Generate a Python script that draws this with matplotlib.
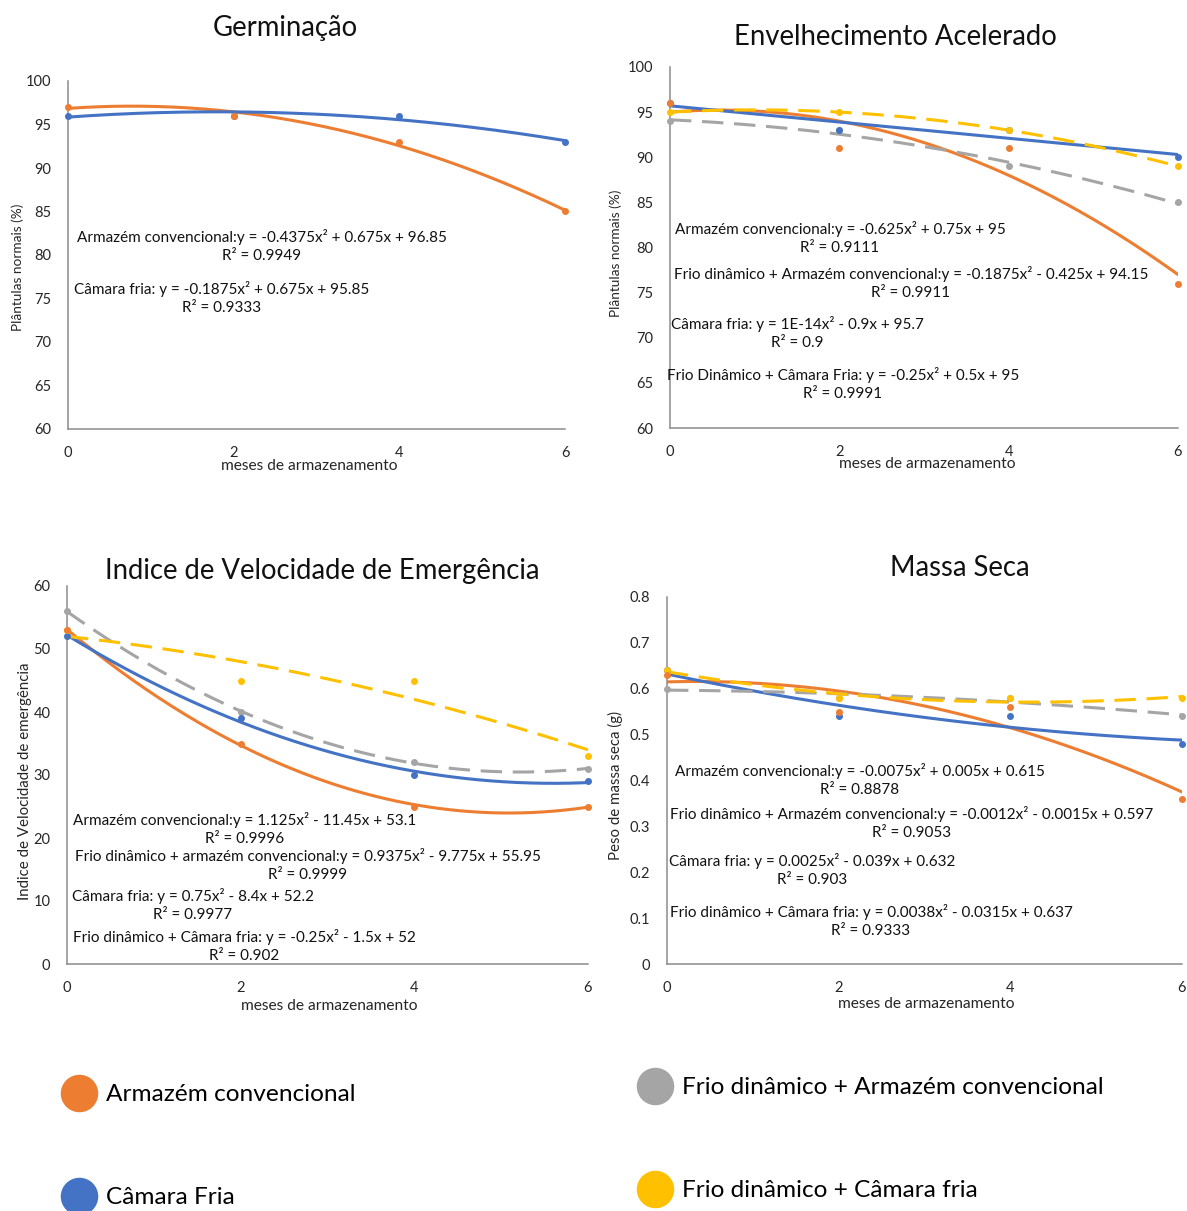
import numpy as np
import matplotlib
matplotlib.use('Agg')
import matplotlib.pyplot as plt
from matplotlib.lines import Line2D
from matplotlib.ticker import FuncFormatter

plt.rcParams['font.family'] = ['Lato', 'DejaVu Sans']

W, H = 1187, 1211
MESES = [0, 2, 4, 6]

SERIES = ['Armazém convencional', 'Câmara Fria',
          'Frio dinâmico + Armazém convencional', 'Frio dinâmico + Câmara fria']
COLORS = ['#ED7D31', '#4472C4', '#A5A5A5', '#FFC000']
DASHED = [False, False, True, True]

# germinação (%)
germ_armazem = [97, 96, 93, 85]
germ_camara = [96, 96, 96, 93]

# envelhecimento acelerado (%)
env_armazem = [96, 91, 91, 76]
env_camara = [96, 93, 93, 90]
env_frio_armazem = [94, 93, 89, 85]
env_frio_camara = [95, 95, 93, 89]

# indice de velocidade de emergência
ive_armazem = [53, 35, 25, 25]
ive_camara = [52, 39, 30, 29]
ive_frio_armazem = [56, 40, 32, 31]
ive_frio_camara = [53, 45, 45, 33]

# massa seca (g)
ms_armazem = [0.63, 0.55, 0.56, 0.36]
ms_camara = [0.64, 0.54, 0.54, 0.48]
ms_frio_armazem = [0.60, 0.58, 0.58, 0.54]
ms_frio_camara = [0.64, 0.58, 0.58, 0.58]


def px(x, y):
    return x / W, 1 - y / H


fig = plt.figure(figsize=(W / 100, H / 100), dpi=100)


def panel(rect, series, ylim, yticks, title, tpos, xl_pos, yl, yl_pos, yl_size,
          eqs):
    l, r, t, b = rect
    ax = fig.add_axes([l / W, 1 - b / H, (r - l) / W, (b - t) / H])
    xs = np.linspace(0, 6, 200)
    # draw in Excel order: orange, gray, blue, yellow
    for i in [2, 1, 3, 0]:
        ys = series[i]
        if ys is None:
            continue
        c = np.polyfit(MESES, ys, 2)
        ln, = ax.plot(xs, np.polyval(c, xs), color=COLORS[i], lw=2.2,
                      solid_capstyle='round', zorder=2 + i)
        if DASHED[i]:
            ln.set_dashes((7, 3.5))
        ax.plot(MESES, ys, 'o', color=COLORS[i], ms=4, clip_on=False,
                zorder=6)
    ax.set_xlim(0, 6)
    ax.set_ylim(*ylim)
    ax.set_xticks(MESES)
    ax.set_yticks(yticks)
    ax.yaxis.set_major_formatter(FuncFormatter(lambda v, p: f'{v:g}'))
    ax.tick_params(length=0, pad=12, labelsize=10.5, colors='#262626')
    for s in ['top', 'right']:
        ax.spines[s].set_visible(False)
    for s in ['left', 'bottom']:
        ax.spines[s].set_color('#8C8C8C')
        ax.spines[s].set_linewidth(1.1)
    fig.text(*px(*tpos), title, fontsize=19.8, ha='center', va='center',
             color='#111111')
    fig.text(*px(*xl_pos), 'meses de armazenamento', fontsize=11.2,
             ha='center', va='center', color='#262626')
    fig.text(*px(*yl_pos), yl, fontsize=yl_size, rotation=90, ha='center',
             va='center', color='#262626')
    for txt, (cx, cy) in eqs:
        fig.text(*px(cx, cy), txt, fontsize=11, ha='center', va='center',
                 multialignment='center', linespacing=1.3, color='#111111')
    return ax


panel((68, 565, 81, 429), [germ_armazem, germ_camara, None, None],
      (60, 100), range(60, 101, 5), 'Germinação', (285, 28), (309, 466),
      'Plântulas normais (%)', (18, 267), 9.8,
      [('Armazém convencional:y = -0.4375x² + 0.675x + 96.85\nR² = 0.9949',
        (262, 246)),
       ('Câmara fria: y = -0.1875x² + 0.675x + 95.85\nR² = 0.9333',
        (222, 298))])

panel((670, 1178, 67, 428),
      [env_armazem, env_camara, env_frio_armazem, env_frio_camara],
      (60, 100), range(60, 101, 5), 'Envelhecimento Acelerado', (895, 37),
      (927, 464), 'Plântulas normais (%)', (616, 253), 9.8,
      [('Armazém convencional:y = -0.625x² + 0.75x + 95\nR² = 0.9111',
        (840, 238)),
       ('Frio dinâmico + Armazém convencional:y = -0.1875x² - 0.425x + 94.15\nR² = 0.9911',
        (911, 283)),
       ('Câmara fria: y = 1E-14x² - 0.9x + 95.7\nR² = 0.9', (797, 333)),
       ('Frio Dinâmico + Câmara Fria: y = -0.25x² + 0.5x + 95\nR² = 0.9991',
        (843, 384))])

panel((67, 588, 586, 964),
      [ive_armazem, ive_camara, ive_frio_armazem, ive_frio_camara],
      (0, 60), range(0, 61, 10), 'Indice de Velocidade de Emergência',
      (322, 571), (329, 1006), 'Indice de Velocidade de emergência',
      (25, 781), 10.8,
      [('Armazém convencional:y = 1.125x² - 11.45x + 53.1\nR² = 0.9996',
        (245, 829)),
       ('Frio dinâmico + armazém convencional:y = 0.9375x² - 9.775x + 55.95\nR² = 0.9999',
        (308, 865)),
       ('Câmara fria: y = 0.75x² - 8.4x + 52.2\nR² = 0.9977', (193, 905)),
       ('Frio dinâmico + Câmara fria: y = -0.25x² - 1.5x + 52\nR² = 0.902',
        (244, 946))])

panel((667, 1182, 597, 964),
      [ms_armazem, ms_camara, ms_frio_armazem, ms_frio_camara],
      (0, 0.8), np.arange(0, 0.81, 0.1), 'Massa Seca', (960, 568),
      (926, 1004), 'Peso de massa seca (g)', (615, 786), 10.8,
      [('Armazém convencional:y = -0.0075x² + 0.005x + 0.615\nR² = 0.8878',
        (860, 780)),
       ('Frio dinâmico + Armazém convencional:y = -0.0012x² - 0.0015x + 0.597\nR² = 0.9053',
        (912, 823)),
       ('Câmara fria: y = 0.0025x² - 0.039x + 0.632\nR² = 0.903', (812, 870)),
       ('Frio dinâmico + Câmara fria: y = 0.0038x² - 0.0315x + 0.637\nR² = 0.9333',
        (871, 921))])

# legend at the bottom, two columns
handles = [Line2D([], [], ls='none', marker='o', ms=26, color=c) for c in COLORS]
for idx, anchor in [([0, 1], px(52, 1072)), ([2, 3], px(628, 1065))]:
    fig.legend([handles[i] for i in idx],
               [SERIES[i] for i in idx], loc='upper left',
               bbox_to_anchor=anchor, frameon=False, fontsize=17.6,
               handlelength=1.2, handletextpad=0.5, labelspacing=3.35,
               borderpad=0)

fig.savefig('out.png', dpi=100)
